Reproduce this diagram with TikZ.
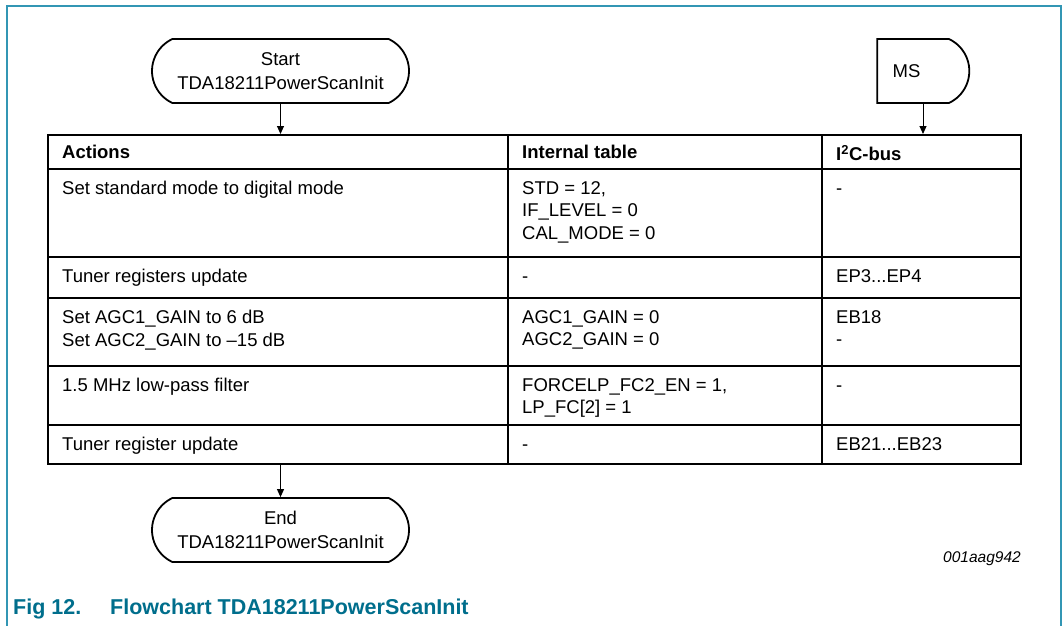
\documentclass[tikz,border=0pt]{standalone}
\usepackage{fontspec}
\setmainfont{Liberation Sans}
\usetikzlibrary{shapes.misc,arrows.meta}
\definecolor{framec}{RGB}{50,150,180}
\definecolor{captc}{RGB}{0,110,140}
\begin{document}
\begin{tikzpicture}[x=1pt,y=-1pt,
  term/.style={draw, line width=1.8pt, rounded rectangle, rounded rectangle arc length=130,
    minimum width=257pt, minimum height=64pt, align=center, inner sep=0pt,
    font=\fontsize{18.5}{24}\selectfont},
  conn/.style={line width=1pt, -{Triangle[length=8pt,width=7pt]}},
  tab/.style={line width=2.2pt},
  cell/.style={anchor=north west, inner sep=0pt, align=left,
    font=\fontsize{18.5}{22.5}\selectfont, execute at begin node={\rule{0pt}{13.5pt}}},
  head/.style={cell, font=\fontsize{18.5}{22.5}\selectfont\bfseries},
  capt/.style={anchor=base west, inner sep=0pt, font=\fontsize{21.5}{25}\selectfont\bfseries, text=captc}
]
\useasboundingbox (0,0) rectangle (1063,626);
% frame
\draw[framec, line width=1.5pt] (7,626) -- (7,6) -- (1061,6) -- (1061,626);

% terminals
\node[term] (start) at (280.5,71) {Start\\TDA18211PowerScanInit};
\node[draw, line width=1.8pt, rounded rectangle, rounded rectangle west arc=none,
  rounded rectangle arc length=130, minimum width=92pt, minimum height=64pt,
  inner sep=0pt, font=\fontsize{18.5}{24}\selectfont] (ms) at (923,71) {MS\kern33pt};
\node[term] (end) at (280.5,530) {End\\TDA18211PowerScanInit};

% table
\draw[tab] (48,135) rectangle (1021,464);
\foreach \y in {169,257,298,366,425} \draw[tab] (48,\y) -- (1021,\y);
\foreach \x in {508,822} \draw[tab] (\x,135) -- (\x,464);
\coordinate (ttop) at (0,134);
\coordinate (tbot) at (0,465);

% connectors
\draw[conn] (start.south) -- (start.south |- ttop);
\draw[conn] (ms.south) -- (ms.south |- ttop);
\draw[conn] (tbot -| end.north) -- (end.north);

% header
\node[head] (h1) at (62,145) {Actions};
\node[head] (h2) at (522,145) {Internal table};
\node[head] (h3) at (836,145) {I\textsuperscript{2}C-bus};
% row 1
\node[cell] (a1) at (62,181) {Set standard mode to digital mode};
\node[cell] (b1) at (522,181) {STD = 12,\\IF\_LEVEL = 0\\CAL\_MODE = 0};
\node[cell] (c1) at (836,181) {-};
% row 2
\node[cell] (a2) at (62,269) {Tuner registers update};
\node[cell] (b2) at (522,269) {-};
\node[cell] (c2) at (836,269) {EP3...EP4};
% row 3
\node[cell] (a3) at (62,310) {Set AGC1\_GAIN to 6 dB\\Set AGC2\_GAIN to \textendash 15 dB};
\node[cell] (b3) at (522,310) {AGC1\_GAIN = 0\\AGC2\_GAIN = 0};
\node[cell] (c3) at (836,310) {EB18\\-};
% row 4
\node[cell] (a4) at (62,378) {1.5 MHz low-pass filter};
\node[cell] (b4) at (522,378) {FORCELP\_FC2\_EN = 1,\\LP\_FC[2] = 1};
\node[cell] (c4) at (836,378) {-};
% row 5
\node[cell] (a5) at (62,437) {Tuner register update};
\node[cell] (b5) at (522,437) {-};
\node[cell] (c5) at (836,437) {EB21...EB23};

% id and caption
\node[anchor=base east, inner sep=0pt, font=\fontsize{15.5}{18}\selectfont\itshape] (id) at (1021,562) {001aag942};
\node[capt] (fig) at (13,614) {Fig 12.};
\node[capt] (figt) at (110,614) {Flowchart TDA18211PowerScanInit};
\end{tikzpicture}
\end{document}
